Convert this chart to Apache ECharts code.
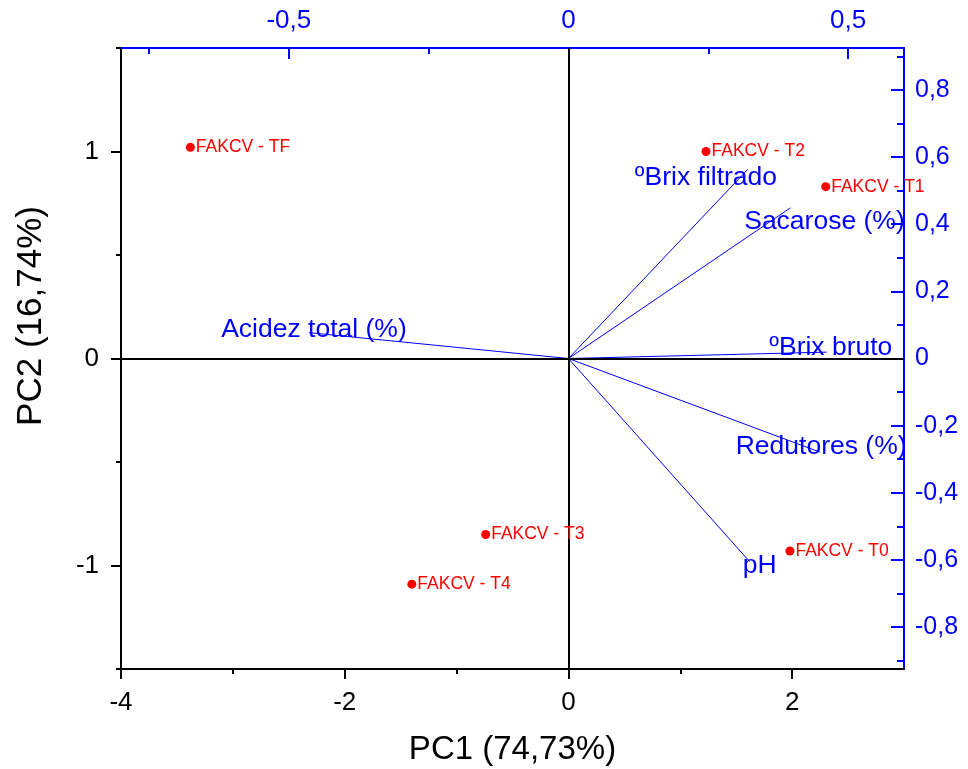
<!DOCTYPE html>
<html>
<head>
<meta charset="utf-8">
<script src="https://cdn.jsdelivr.net/npm/echarts@6/dist/echarts.min.js"></script>
<style>
html,body{margin:0;padding:0;background:#fff;}
#chart{width:968px;height:769px;}
</style>
</head>
<body>
<div id="chart"></div>
<script>
// ---- data ----
const scoreNames = ['FAKCV - TF', 'FAKCV - T2', 'FAKCV - T1', 'FAKCV - T3', 'FAKCV - T4', 'FAKCV - T0'];
const pc1Scores = [-3.38, 1.23, 2.30, -0.74, -1.40, 1.98];
const pc2Scores = [1.02, 1.00, 0.83, -0.85, -1.09, -0.93];

const loadingNames = ['ºBrix filtrado', 'Sacarose (%)', 'ºBrix bruto', 'Redutores (%)', 'pH', 'Acidez total (%)'];
const loadingPC1 = [0.321, 0.397, 0.462, 0.450, 0.324, -0.464];
const loadingPC2 = [0.564, 0.449, 0.019, -0.279, -0.605, 0.077];

const pc1Ticks = [-4, -2, 0, 2];
const pc1MinorTicks = [-3, -1, 1];
const pc2Ticks = [-1, 0, 1];
const pc2MinorTicks = [-1.5, -0.5, 0.5, 1.5];
const topTicks = [-0.5, 0, 0.5];
const topMinorTicks = [-0.75, -0.25, 0.25];
const rightTicks = [-0.8, -0.6, -0.4, -0.2, 0, 0.2, 0.4, 0.6, 0.8];
const rightMinorTicks = [-0.9, -0.7, -0.5, -0.3, -0.1, 0.1, 0.3, 0.5, 0.7, 0.9];

const xTitle = 'PC1 (74,73%)';
const yTitle = 'PC2 (16,74%)';

// ---- styling (label placement offsets for the loading names) ----
const loadingLabelOffsets = [[-42, 9], [34, 14], [4, -4], [1, -5], [10, 4], [5, -3]];

const FONT = 'Liberation Sans, Arial, sans-serif';
const BLUE = '#0000ff';
const RED = '#ff0000';

function fmt(v) {
  const r = Math.round(v * 100) / 100;
  return String(r).replace('.', ',');
}

function mainAxis(pos, min, max, ticks, color, inside, tickLen, margin, fs) {
  return {
    type: 'value', gridIndex: 0, position: pos, min: min, max: max,
    axisLine: { show: true, onZero: false, lineStyle: { color: color, width: 2 } },
    axisTick: { show: true, inside: inside, length: tickLen, customValues: ticks, lineStyle: { color: color, width: 2 } },
    axisLabel: { show: true, customValues: ticks, margin: margin, color: color, fontSize: fs, fontFamily: FONT, formatter: fmt },
    splitLine: { show: false }
  };
}
function minorAxis(pos, min, max, ticks, color, inside, tickLen) {
  return {
    type: 'value', gridIndex: 0, position: pos, min: min, max: max,
    axisLine: { show: false, onZero: false },
    axisTick: { show: true, inside: inside, length: tickLen, customValues: ticks, lineStyle: { color: color, width: 2 } },
    axisLabel: { show: false },
    splitLine: { show: false }
  };
}

const xBottom = mainAxis('bottom', -4, 3, pc1Ticks, '#000', false, 10, 21, 26);
xBottom.name = xTitle;
xBottom.nameLocation = 'middle';
xBottom.nameGap = 64;
xBottom.nameTextStyle = { fontSize: 33, fontFamily: FONT, color: '#000' };

const option = {
  animation: false,
  backgroundColor: '#fff',
  grid: { left: 121, right: 64, top: 48, bottom: 100, containLabel: false, outerBoundsMode: 'none' },
  xAxis: [
    xBottom,
    mainAxis('top', -0.8, 0.6, topTicks, BLUE, true, 11, 14, 26),
    minorAxis('bottom', -4, 3, pc1MinorTicks, '#000', false, 5),
    minorAxis('top', -0.8, 0.6, topMinorTicks, BLUE, true, 6)
  ],
  yAxis: [
    mainAxis('left', -1.5, 1.5, pc2Ticks, '#000', false, 10, 22, 26),
    mainAxis('right', -0.925, 0.925, rightTicks, BLUE, true, 13, 11, 25),
    minorAxis('left', -1.5, 1.5, pc2MinorTicks, '#000', false, 5),
    minorAxis('right', -0.925, 0.925, rightMinorTicks, BLUE, true, 7)
  ],
  graphic: [{
    type: 'text', x: 31, y: 316, rotation: Math.PI / 2,
    style: { text: yTitle, font: '35px ' + FONT, fill: '#000', textAlign: 'center', textVerticalAlign: 'middle' }
  }],
  series: []
};

// loading vectors
loadingNames.forEach(function (name, i) {
  option.series.push({
    type: 'line', xAxisIndex: 1, yAxisIndex: 1,
    data: [[0, 0], [loadingPC1[i], loadingPC2[i]]],
    showSymbol: false, symbol: 'none', silent: true, z: 3,
    lineStyle: { color: BLUE, width: 1, opacity: 1 }
  });
});
// loading labels
option.series.push({
  type: 'scatter', xAxisIndex: 1, yAxisIndex: 1, symbolSize: 0, silent: true, z: 4,
  itemStyle: { color: 'rgba(0,0,0,0)', opacity: 1 },
  data: loadingNames.map(function (n, i) {
    return {
      name: n, value: [loadingPC1[i], loadingPC2[i]],
      label: { offset: loadingLabelOffsets[i] }
    };
  }),
  label: {
    show: true, position: 'inside', formatter: '{b}', opacity: 1,
    color: BLUE, fontSize: 26.5, fontFamily: FONT
  }
});
// scores
option.series.push({
  type: 'scatter', xAxisIndex: 0, yAxisIndex: 0, symbol: 'circle', symbolSize: 9, z: 5,
  itemStyle: { color: RED, opacity: 1 },
  data: scoreNames.map(function (n, i) { return { name: n, value: [pc1Scores[i], pc2Scores[i]] }; }),
  label: {
    show: true, position: 'right', distance: 1, formatter: '{b}', opacity: 1,
    color: RED, fontSize: 17.5, fontFamily: FONT
  },
  markLine: {
    silent: true, symbol: ['none', 'none'], label: { show: false }, animation: false,
    lineStyle: { color: '#000', width: 2, type: 'solid', opacity: 1 },
    data: [{ xAxis: 0 }, { yAxis: 0 }]
  }
});

const chart = echarts.init(document.getElementById('chart'), null, { renderer: 'canvas' });
chart.setOption(option);
</script>
</body>
</html>
